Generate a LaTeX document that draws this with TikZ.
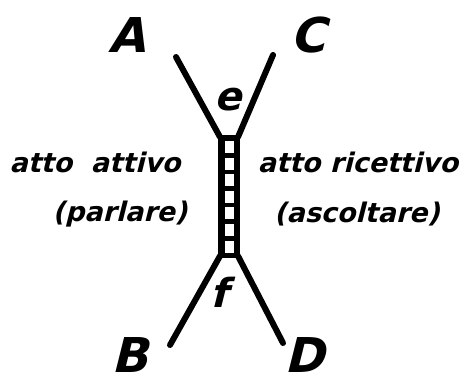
\documentclass[tikz,border=0pt]{standalone}
\usepackage{fontspec}
\newfontfamily\hand{DejaVu Sans}[FakeSlant=0.25]
\begin{document}
\begin{tikzpicture}[x=1pt,y=-1pt,
  stroke/.style={line width=6pt,line cap=round,line join=round},
  big/.style={font=\hand\bfseries\fontsize{48}{48}\selectfont,inner sep=0pt},
  mid/.style={font=\hand\bfseries\fontsize{40}{40}\selectfont,inner sep=0pt},
  lab/.style={font=\hand\bfseries\fontsize{27}{30}\selectfont,inner sep=0pt}]
\useasboundingbox (0,0) rectangle (465,385);
% end points
\coordinate (a) at (176,57);
\coordinate (c) at (273,55);
\coordinate (b) at (170,345);
\coordinate (d) at (283,343);
\coordinate (tl) at (220,137);
\coordinate (tr) at (238,137);
\coordinate (bl) at (220,256);
\coordinate (br) at (238,256);
% ladder
\fill[black] (218,135) rectangle (240,258);
\foreach \k in {0,...,6}
  \fill[white] (224.5,{141+16.6*\k}) rectangle (233.5,{153+16.6*\k});
% branches
\draw[stroke] (a) -- (tl);
\draw[stroke] (c) -- (tr);
\draw[stroke] (b) -- (bl);
\draw[stroke] (d) -- (br);
% letters
\node[big] (A) at (127,35) {A};
\node[big] (C) at (308,35) {C};
\node[big] (B) at (130,355) {B};
\node[big] (D) at (304,355) {D};
\node[mid] (e) at (228,100) {e};
\node[mid] (f) at (219,292) {f};
% labels
\node[lab] (l1) at (95,162) {atto\ \ attivo};
\node[lab] (l2) at (120,214) {(parlare)};
\node[lab] (r1) at (358,162) {atto ricettivo};
\node[lab] (r2) at (357,214) {(ascoltare)};
\end{tikzpicture}
\end{document}
